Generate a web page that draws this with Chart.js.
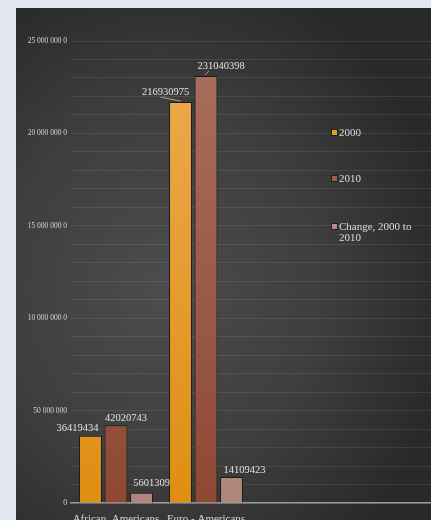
<!DOCTYPE html>
<html>
<head>
<meta charset="utf-8">
<script src="https://cdn.jsdelivr.net/npm/chart.js@4"></script>
<style>
  html, body { margin: 0; padding: 0; }
  body { width: 431px; height: 520px; background: #e3e7f0; overflow: hidden; position: relative; }
  #panel {
    position: absolute; left: 16px; top: 8px; width: 415px; height: 512px;
    background: radial-gradient(ellipse 70% 65% at 35% 55%, #4c4c4c 0%, #3e3e3e 55%, #292929 100%);
  }
  #panel canvas { position: absolute; left: 0; top: 0; }
  .leg { position: absolute; left: 323px; font: 11px "Liberation Serif", serif; color: #dcdcdc; line-height: 11px; }
  .leg i { position: absolute; left: -8px; top: 2px; width: 5px; height: 5px; border: 1px solid #222; }
</style>
</head>
<body>
<div id="panel">
  <canvas id="myChart" width="415" height="512"></canvas>
  <div class="leg" style="top:119px"><i style="background:#e89a25"></i>2000</div>
  <div class="leg" style="top:165px"><i style="background:#a45a44"></i>2010</div>
  <div class="leg" style="top:213px"><i style="background:#bb8a80"></i>Change, 2000 to<br>2010</div>
</div>
<script>
// data
var categories = ['African  Americans', 'Euro - Americans', '', ''];
var years2000 = [36419434, 216930975, null, null];
var years2010 = [42020743, 231040398, null, null];
var change = [5601309, 14109423, null, null];
var seriesNames = ['2000', '2010', 'Change, 2000 to 2010'];
var tickLabels = ['0', '50 000 000', '10 000 000 0', '15 000 000 0', '20 000 000 0', '25 000 000 0'];

// where each value label goes relative to its bar (dx from bar center, dy above bar top)
var labelOffsets = [
    [[-13, 7], [-15, 10]],
    [[10, 7], [15, 10]],
    [[10, 9], [13, 7]]
];

function barFill(top, bottom) {
    return function(ctx) {
        var area = ctx.chart.chartArea;
        if (!area) return bottom;
        var g = ctx.chart.ctx.createLinearGradient(0, area.top, 0, area.bottom);
        g.addColorStop(0, top);
        g.addColorStop(1, bottom);
        return g;
    };
}

var valueLabels = {
    id: 'valueLabels',
    afterDatasetsDraw: function(chart) {
        var c = chart.ctx;
        c.save();
        c.font = '10.5px "Liberation Serif", serif';
        c.fillStyle = '#e2e2e2';
        c.textAlign = 'center';
        c.textBaseline = 'middle';
        chart.data.datasets.forEach(function(ds, i) {
            chart.getDatasetMeta(i).data.forEach(function(bar, j) {
                var v = ds.data[j];
                if (v == null) return;
                var off = labelOffsets[i][j];
                c.fillText(String(v), bar.x + off[0], bar.y - off[1]);
            });
        });
        // leader lines for the tall bars
        var b0 = chart.getDatasetMeta(0).data[1];
        var b1 = chart.getDatasetMeta(1).data[1];
        c.strokeStyle = '#bdbdbd';
        c.lineWidth = 0.8;
        c.beginPath();
        c.moveTo(b0.x - 20, b0.y - 5);
        c.lineTo(b0.x, b0.y - 1);
        c.moveTo(b1.x + 3, b1.y - 5);
        c.lineTo(b1.x - 1, b1.y - 1);
        c.stroke();
        c.restore();
    }
};

var ctx = document.getElementById('myChart').getContext('2d');
var myChart = new Chart(ctx, {
    type: 'bar',
    data: {
        labels: categories,
        datasets: [{
            label: seriesNames[0],
            data: years2000,
            backgroundColor: barFill('#eeaa50', '#de8f12'),
            borderColor: '#1c1c1c',
            borderWidth: 1
        }, {
            label: seriesNames[1],
            data: years2010,
            backgroundColor: barFill('#aa6f5f', '#8e4833'),
            borderColor: '#1c1c1c',
            borderWidth: 1
        }, {
            label: seriesNames[2],
            data: change,
            backgroundColor: barFill('#c2958b', '#b0857b'),
            borderColor: '#1c1c1c',
            borderWidth: 1
        }]
    },
    options: {
        responsive: false,
        animation: false,
        layout: { padding: { top: 33, right: 0, left: 0, bottom: 0 } },
        datasets: {
            bar: { categoryPercentage: 0.85, barPercentage: 0.9 }
        },
        plugins: {
            legend: { display: false },
            tooltip: { enabled: false }
        },
        scales: {
            x: {
                grid: { display: false, drawTicks: false },
                border: { color: '#9a9a9a', width: 1.5 },
                afterFit: function(scale) { scale.height = 17; },
                ticks: {
                    padding: 10,
                    maxRotation: 0,
                    color: '#d8d8d8',
                    font: { family: 'Liberation Serif', size: 11 }
                }
            },
            y: {
                min: 0,
                max: 250000000,
                afterFit: function(scale) { scale.width = 55; },
                border: { display: false },
                grid: { color: 'rgba(255,255,255,0.09)', drawTicks: false },
                ticks: {
                    stepSize: 10000000,
                    padding: 4,
                    color: '#d6d6d6',
                    font: { family: 'Liberation Serif', size: 7.5 },
                    callback: function(value) {
                        if (value % 50000000 !== 0) return '';
                        return tickLabels[value / 50000000];
                    }
                }
            }
        }
    },
    plugins: [valueLabels]
});
</script>
</body>
</html>
